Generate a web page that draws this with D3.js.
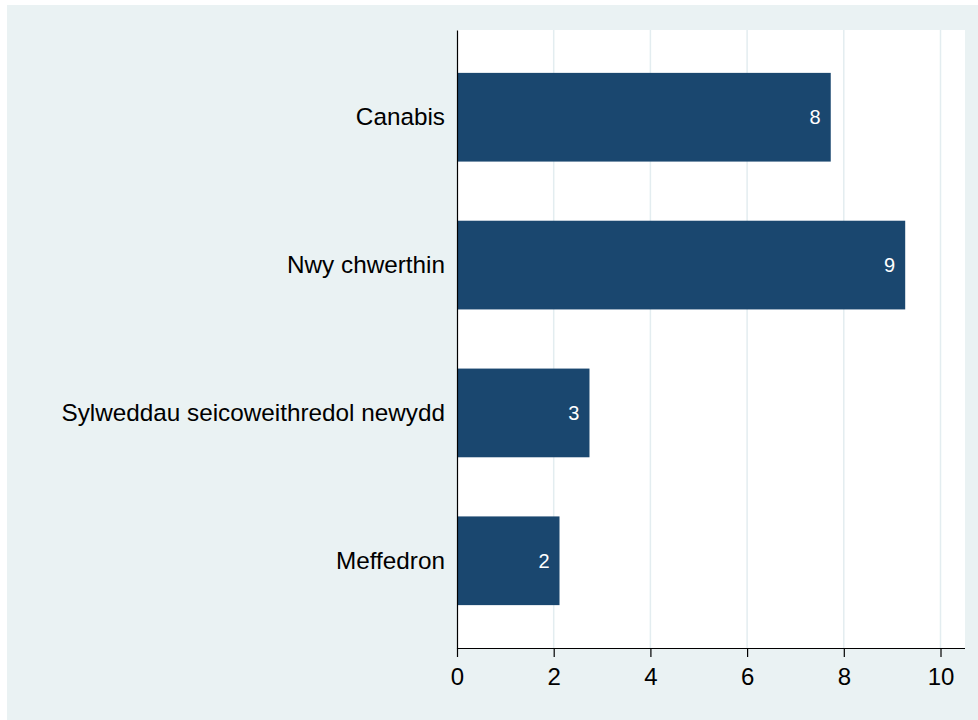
<!DOCTYPE html>
<html>
<head>
<meta charset="utf-8">
<script src="https://cdn.jsdelivr.net/npm/d3@7"></script>
<style>
  html, body { margin: 0; padding: 0; background: #ffffff; }
  svg { display: block; }
  text { font-family: "Liberation Sans", Arial, sans-serif; }
</style>
</head>
<body>
<svg id="chart" width="978" height="720"></svg>
<script>
const categories = ["Canabis", "Nwy chwerthin", "Sylweddau seicoweithredol newydd", "Meffedron"];
const values = [7.73, 9.27, 2.74, 2.12];
const valueLabels = ["8", "9", "3", "2"];
const xTicks = [0, 2, 4, 6, 8, 10];

const W = 978, H = 720;
const svg = d3.select("#chart");

// outer background
svg.append("rect").attr("x", 7).attr("y", 5).attr("width", W - 7).attr("height", H - 5)
  .attr("fill", "#EAF2F3");

const plot = { left: 457, right: 965, top: 30, bottom: 648 };

// plot area
svg.append("rect").attr("x", plot.left).attr("y", plot.top)
  .attr("width", plot.right - plot.left).attr("height", plot.bottom - plot.top)
  .attr("fill", "#ffffff");

const x = d3.scaleLinear().domain([0, 10.5]).range([plot.left, plot.left + 48.35 * 10.5]);
const y = d3.scaleBand().domain(categories).range([plot.top, plot.bottom])
  .paddingInner(0.4).paddingOuter(0.29);

// gridlines
svg.append("g").selectAll("line").data(xTicks.filter(d => d > 0)).join("line")
  .attr("x1", d => x(d)).attr("x2", d => x(d))
  .attr("y1", plot.top).attr("y2", plot.bottom)
  .attr("stroke", "#E3EDF0").attr("stroke-width", 1.5);

// bars
const data = categories.map((c, i) => ({ c, v: values[i], l: valueLabels[i] }));
svg.append("g").selectAll("rect").data(data).join("rect")
  .attr("x", x(0)).attr("y", d => y(d.c))
  .attr("width", d => x(d.v) - x(0)).attr("height", y.bandwidth())
  .attr("fill", "#1A476F");

// value labels
svg.append("g").selectAll("text").data(data).join("text")
  .attr("x", d => x(d.v) - 10).attr("y", d => y(d.c) + y.bandwidth() / 2)
  .attr("dy", "0.35em").attr("text-anchor", "end")
  .attr("fill", "#ffffff").attr("font-size", "20px")
  .text(d => d.l);

// y axis
const yAxis = d3.axisLeft(y).tickSize(0).tickPadding(12);
const gy = svg.append("g").attr("transform", `translate(${plot.left},0)`).call(yAxis);
gy.select(".domain").attr("stroke", "#000").attr("stroke-width", 1.2);
gy.selectAll("text").attr("font-size", "24.3px").attr("fill", "#000")
  .attr("font-family", "'Liberation Sans', Arial, sans-serif");

// x axis
const xAxis = d3.axisBottom(x).tickValues(xTicks).tickSize(9).tickPadding(11).tickSizeOuter(0);
const gx = svg.append("g").attr("transform", `translate(0,${plot.bottom})`).call(xAxis);
gx.select(".domain").attr("d", `M${plot.left},0.5H${plot.right}`).attr("stroke", "#000").attr("stroke-width", 1.2);
gx.selectAll(".tick line").attr("stroke", "#000").attr("stroke-width", 1.2);
gx.selectAll("text").attr("font-size", "24px").attr("fill", "#000")
  .attr("font-family", "'Liberation Sans', Arial, sans-serif");
</script>
</body>
</html>
